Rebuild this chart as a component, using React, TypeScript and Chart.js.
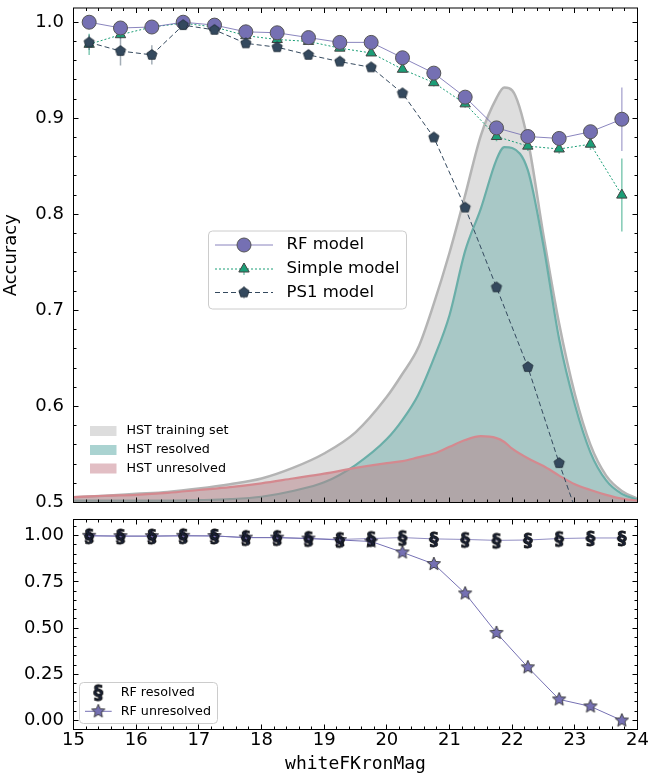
import React, { useEffect, useRef } from 'react';
import { Chart, registerables } from 'chart.js';

Chart.register(...registerables);

const FONT = "'DejaVu Sans', sans-serif";
const MONO = "'DejaVu Sans Mono', monospace";

// ---------------- data ----------------
const magBins = [15.25, 15.75, 16.25, 16.75, 17.25, 17.75, 18.25, 18.75, 19.25, 19.75, 20.25, 20.75, 21.25, 21.75, 22.25, 22.75, 23.25, 23.75];

const rfAcc = [1.0, 0.994, 0.995, 1.0, 0.997, 0.99, 0.989, 0.984, 0.979, 0.979, 0.963, 0.947, 0.922, 0.89, 0.881, 0.879, 0.886, 0.899];
const rfErr = [0.003, 0.004, 0.003, 0.002, 0.002, 0.002, 0.002, 0.002, 0.002, 0.003, 0.003, 0.004, 0.004, 0.005, 0.005, 0.005, 0.006, 0.033];

const simpleAcc = [0.977, 0.987, 0.995, 0.999, 0.995, 0.986, 0.982, 0.98, 0.973, 0.968, 0.951, 0.937, 0.915, 0.881, 0.871, 0.868, 0.873, 0.82];
const simpleErr = [0.011, 0.004, 0.003, 0.002, 0.002, 0.002, 0.002, 0.002, 0.003, 0.003, 0.003, 0.004, 0.004, 0.005, 0.005, 0.005, 0.006, 0.038];

const ps1Acc = [0.979, 0.97, 0.966, 0.997, 0.992, 0.978, 0.974, 0.966, 0.959, 0.953, 0.926, 0.88, 0.807, 0.724, 0.641, 0.541, 0.448, 0.38];
const ps1Err = [0.008, 0.015, 0.01, 0.002, 0.002, 0.002, 0.002, 0.002, 0.002, 0.002, 0.002, 0.003, 0.003, 0.004, 0.004, 0.005, 0.006, 0.008];

const kdeMag = [15, 15.5, 16, 16.5, 17, 17.5, 18, 18.5, 19, 19.5, 20, 20.25, 20.5, 20.75, 21, 21.25, 21.5, 21.75, 21.875, 22, 22.25, 22.5, 22.75, 23, 23.25, 23.5, 23.75, 24];
const hstTraining = [0.5055, 0.507, 0.509, 0.511, 0.5145, 0.519, 0.525, 0.536, 0.551, 0.573, 0.61, 0.634, 0.661, 0.707, 0.76, 0.82, 0.882, 0.921, 0.932, 0.929, 0.877, 0.778, 0.686, 0.613, 0.56, 0.528, 0.512, 0.504];
const hstResolved = [0.502, 0.502, 0.502, 0.502, 0.5025, 0.5035, 0.506, 0.512, 0.521, 0.539, 0.566, 0.586, 0.612, 0.65, 0.695, 0.762, 0.806, 0.857, 0.87, 0.869, 0.846, 0.767, 0.67, 0.602, 0.552, 0.523, 0.509, 0.503];
const hstUnresolved = [0.5055, 0.507, 0.508, 0.51, 0.513, 0.516, 0.52, 0.525, 0.53, 0.536, 0.541, 0.543, 0.547, 0.551, 0.558, 0.565, 0.569, 0.567, 0.563, 0.556, 0.546, 0.538, 0.528, 0.519, 0.513, 0.508, 0.504, 0.502];

const rfResolvedAcc = [1.0, 0.998, 0.998, 1.0, 0.999, 0.99, 0.99, 0.985, 0.98, 0.985, 0.99, 0.983, 0.98, 0.975, 0.977, 0.985, 0.988, 0.988];
const rfUnresolvedAcc = [1.0, 0.998, 0.998, 1.0, 0.999, 0.99, 0.99, 0.985, 0.977, 0.969, 0.91, 0.847, 0.688, 0.474, 0.288, 0.114, 0.076, 0.0];

const xTicks = [15, 16, 17, 18, 19, 20, 21, 22, 23, 24];
const yTicksTop = [0.5, 0.6, 0.7, 0.8, 0.9, 1.0];
const yTicksBottom = [0.0, 0.25, 0.5, 0.75, 1.0];

// ---------------- styles ----------------
const PURPLE = '#7570b3';
const GREEN = '#1b9e77';
const SLATE = '#34495e';

function makeMarker(size: number, draw: (ctx: CanvasRenderingContext2D) => void) {
  const c = document.createElement('canvas');
  c.width = size;
  c.height = size;
  const ctx = c.getContext('2d') as CanvasRenderingContext2D;
  ctx.translate(size / 2, size / 2);
  draw(ctx);
  return c;
}

function polyPath(ctx: CanvasRenderingContext2D, n: number, rOut: number, rIn: number | null) {
  ctx.beginPath();
  const count = rIn === null ? n : n * 2;
  for (let i = 0; i < count; i++) {
    const a = -Math.PI / 2 + (i * 2 * Math.PI) / count;
    const r = rIn === null ? rOut : i % 2 ? rIn : rOut;
    const px = r * Math.cos(a);
    const py = r * Math.sin(a);
    if (i === 0) ctx.moveTo(px, py);
    else ctx.lineTo(px, py);
  }
  ctx.closePath();
}

function xy(xs: number[], ys: number[]) {
  return xs.map((x, i) => ({ x, y: ys[i] }));
}

function drawFrameAndTicks(chart: any, xMinor: number, yMajor: number[], yMinor: number) {
  const { ctx, chartArea: a } = chart;
  const xs = chart.scales.x;
  const ys = chart.scales.y;
  const near = (v: number, arr: number[]) => arr.some((t) => Math.abs(t - v) < 1e-6);
  ctx.save();
  ctx.strokeStyle = '#000';
  ctx.lineWidth = 1;
  ctx.beginPath();
  for (let k = 0; ; k++) {
    const v = xs.min + k * xMinor;
    if (v > xs.max + 1e-9) break;
    const len = near(v, xTicks) ? 5 : 3;
    const p = Math.floor(xs.getPixelForValue(v)) + 0.5;
    ctx.moveTo(p, a.bottom);
    ctx.lineTo(p, a.bottom - len);
    ctx.moveTo(p, a.top);
    ctx.lineTo(p, a.top + len);
  }
  const start = Math.ceil(ys.min / yMinor - 1e-9);
  for (let k = start; ; k++) {
    const v = k * yMinor;
    if (v > ys.max + 1e-9) break;
    const len = near(v, yMajor) ? 5 : 3;
    const p = Math.floor(ys.getPixelForValue(v)) + 0.5;
    ctx.moveTo(a.left, p);
    ctx.lineTo(a.left + len, p);
    ctx.moveTo(a.right, p);
    ctx.lineTo(a.right - len, p);
  }
  ctx.stroke();
  ctx.strokeRect(a.left, a.top, a.right - a.left, a.bottom - a.top);
  ctx.restore();
}

function legendBox(ctx: CanvasRenderingContext2D, x: number, y: number, w: number, h: number) {
  ctx.save();
  ctx.beginPath();
  (ctx as any).roundRect(x, y, w, h, 4);
  ctx.fillStyle = 'rgba(255,255,255,0.85)';
  ctx.fill();
  ctx.strokeStyle = '#cccccc';
  ctx.lineWidth = 1;
  ctx.stroke();
  ctx.restore();
}

export default function App() {
  const topRef = useRef<HTMLCanvasElement>(null);
  const botRef = useRef<HTMLCanvasElement>(null);

  useEffect(() => {
    Chart.defaults.font.family = FONT;
    Chart.defaults.color = '#000';

    const pentImg = makeMarker(14, (ctx) => {
      polyPath(ctx, 5, 5.4, null);
      ctx.fillStyle = SLATE;
      ctx.fill();
      ctx.strokeStyle = '#1c2833';
      ctx.lineWidth = 0.8;
      ctx.stroke();
    });
    const starImg = makeMarker(18, (ctx) => {
      polyPath(ctx, 5, 7, 3.2);
      ctx.fillStyle = PURPLE;
      ctx.fill();
      ctx.strokeStyle = '#333';
      ctx.lineWidth = 0.9;
      ctx.stroke();
    });
    const makeSection = (size: number, fs: number) =>
      makeMarker(size, (ctx) => {
        ctx.font = `bold ${fs}px ${FONT}`;
        ctx.textAlign = 'center';
        ctx.textBaseline = 'middle';
        ctx.fillStyle = '#1a2236';
        ctx.strokeStyle = '#000';
        ctx.lineWidth = 0.8;
        ctx.fillText('§', 0, 1);
        ctx.strokeText('§', 0, 1);
      });
    const sectImg = makeSection(24, 18);
    const sectLegendImg = makeSection(26, 19);

    const errorSets: Record<number, { vals: number[]; errs: number[]; color: string }> = {
      0: { vals: rfAcc, errs: rfErr, color: 'rgba(117,112,179,0.55)' },
      1: { vals: simpleAcc, errs: simpleErr, color: 'rgba(27,158,119,0.55)' },
      2: { vals: ps1Acc, errs: ps1Err, color: 'rgba(52,73,94,0.45)' },
    };

    const topPlugin = {
      id: 'topDecor',
      beforeDatasetDraw(chart: any, args: any) {
        const set = errorSets[args.index];
        if (!set) return;
        const { ctx, chartArea: a } = chart;
        const xs = chart.scales.x;
        const ys = chart.scales.y;
        ctx.save();
        ctx.beginPath();
        ctx.rect(a.left, a.top, a.right - a.left, a.bottom - a.top);
        ctx.clip();
        ctx.strokeStyle = set.color;
        ctx.lineWidth = 1.5;
        ctx.beginPath();
        magBins.forEach((m, i) => {
          const px = xs.getPixelForValue(m);
          ctx.moveTo(px, ys.getPixelForValue(set.vals[i] + set.errs[i]));
          ctx.lineTo(px, ys.getPixelForValue(set.vals[i] - set.errs[i]));
        });
        ctx.stroke();
        ctx.restore();
      },
      afterDraw(chart: any) {
        const ctx: CanvasRenderingContext2D = chart.ctx;
        drawFrameAndTicks(chart, 0.2, yTicksTop, 0.02);

        // model legend
        legendBox(ctx, 208.5, 231, 198, 78);
        const rows = [245, 269, 292.5];
        const hx0 = 215;
        const hx1 = 273;
        const mx = 244;
        ctx.save();
        // RF
        ctx.strokeStyle = 'rgba(117,112,179,0.85)';
        ctx.lineWidth = 1;
        ctx.beginPath();
        ctx.moveTo(hx0, rows[0]);
        ctx.lineTo(hx1, rows[0]);
        ctx.stroke();
        ctx.beginPath();
        ctx.arc(mx, rows[0], 7, 0, Math.PI * 2);
        ctx.fillStyle = PURPLE;
        ctx.fill();
        ctx.strokeStyle = '#555';
        ctx.stroke();
        // Simple
        ctx.strokeStyle = GREEN;
        ctx.setLineDash([2, 2]);
        ctx.beginPath();
        ctx.moveTo(hx0, rows[1]);
        ctx.lineTo(hx1, rows[1]);
        ctx.stroke();
        ctx.setLineDash([]);
        ctx.strokeStyle = 'rgba(27,158,119,0.55)';
        ctx.lineWidth = 1.5;
        ctx.beginPath();
        ctx.moveTo(mx, rows[1] - 6);
        ctx.lineTo(mx, rows[1] + 6);
        ctx.stroke();
        ctx.beginPath();
        ctx.moveTo(mx, rows[1] - 6);
        ctx.lineTo(mx + 5.2, rows[1] + 3);
        ctx.lineTo(mx - 5.2, rows[1] + 3);
        ctx.closePath();
        ctx.fillStyle = GREEN;
        ctx.fill();
        ctx.strokeStyle = '#444';
        ctx.lineWidth = 1;
        ctx.stroke();
        // PS1
        ctx.strokeStyle = SLATE;
        ctx.setLineDash([5, 3]);
        ctx.beginPath();
        ctx.moveTo(hx0, rows[2]);
        ctx.lineTo(hx1, rows[2]);
        ctx.stroke();
        ctx.setLineDash([]);
        ctx.strokeStyle = 'rgba(52,73,94,0.45)';
        ctx.lineWidth = 1.5;
        ctx.beginPath();
        ctx.moveTo(mx, rows[2] - 6);
        ctx.lineTo(mx, rows[2] + 6);
        ctx.stroke();
        ctx.drawImage(pentImg, mx - 7, rows[2] - 7);

        ctx.fillStyle = '#000';
        ctx.font = `16.5px ${FONT}`;
        ctx.textBaseline = 'middle';
        ctx.textAlign = 'left';
        ctx.fillText('RF model', 286.5, rows[0]);
        ctx.fillText('Simple model', 286.5, rows[1]);
        ctx.fillText('PS1 model', 286.5, rows[2]);

        // HST legend (no frame)
        const hRows = [431, 450, 468.5];
        const patches = ['rgb(221,221,221)', 'rgb(170,211,209)', 'rgb(226,190,196)'];
        const labels = ['HST training set', 'HST resolved', 'HST unresolved'];
        ctx.font = `12.7px ${FONT}`;
        hRows.forEach((ry, i) => {
          ctx.fillStyle = patches[i];
          ctx.fillRect(90, ry - 5, 26.5, 10);
          ctx.fillStyle = '#000';
          ctx.fillText(labels[i], 126.5, ry);
        });
        ctx.restore();
      },
    };

    const top = new Chart(topRef.current as HTMLCanvasElement, {
      type: 'line',
      data: {
        datasets: [
          {
            label: 'RF model',
            data: xy(magBins, rfAcc),
            borderColor: 'rgba(117,112,179,0.85)',
            borderWidth: 1,
            pointStyle: 'circle',
            pointRadius: 7,
            pointBackgroundColor: PURPLE,
            pointBorderColor: '#555',
            pointBorderWidth: 1,
            fill: false,
            tension: 0,
            order: 2,
          },
          {
            label: 'Simple model',
            data: xy(magBins, simpleAcc),
            borderColor: GREEN,
            borderWidth: 1,
            borderDash: [2, 2],
            pointStyle: 'triangle',
            pointRadius: 6,
            pointBackgroundColor: GREEN,
            pointBorderColor: '#444',
            pointBorderWidth: 1,
            fill: false,
            tension: 0,
            order: 3,
          },
          {
            label: 'PS1 model',
            data: xy(magBins, ps1Acc),
            borderColor: SLATE,
            borderWidth: 1,
            borderDash: [5, 3],
            pointStyle: pentImg as any,
            pointRadius: 5,
            fill: false,
            tension: 0,
            order: 1,
          },
          {
            label: 'HST training set',
            data: xy(kdeMag, hstTraining),
            borderColor: '#b4b4b4',
            borderWidth: 2.5,
            backgroundColor: 'rgb(222,222,222)',
            fill: 'start',
            pointRadius: 0,
            cubicInterpolationMode: 'monotone',
            order: 6,
          },
          {
            label: 'HST resolved',
            data: xy(kdeMag, hstResolved),
            borderColor: '#6aaea8',
            borderWidth: 2.2,
            backgroundColor: 'rgba(132,185,182,0.6)',
            fill: 'start',
            pointRadius: 0,
            cubicInterpolationMode: 'monotone',
            order: 5,
          },
          {
            label: 'HST unresolved',
            data: xy(kdeMag, hstUnresolved),
            borderColor: '#d4898f',
            borderWidth: 2.2,
            backgroundColor: 'rgba(184,132,138,0.5)',
            fill: 'start',
            pointRadius: 0,
            cubicInterpolationMode: 'monotone',
            order: 4,
          },
        ],
      },
      options: {
        responsive: false,
        animation: false,
        devicePixelRatio: 1,
        layout: { padding: { left: 0, right: 13.5, top: 5.5, bottom: 9.5 } },
        plugins: { legend: { display: false }, tooltip: { enabled: false } },
        scales: {
          x: { type: 'linear', min: 15, max: 24, display: false },
          y: {
            type: 'linear',
            min: 0.5,
            max: 1.0148,
            afterBuildTicks: (s: any) => {
              s.ticks = yTicksTop.map((v) => ({ value: v }));
            },
            afterFit: (s: any) => {
              s.width = 73.5;
              s.paddingTop = 0;
              s.paddingBottom = 0;
            },
            grid: { display: false, drawTicks: false },
            border: { display: false },
            ticks: {
              padding: 9.5,
              font: { size: 18, family: FONT },
              color: '#000',
              callback: (v: any) => Number(v).toFixed(1),
            },
            title: { display: true, text: 'Accuracy', font: { size: 18, family: FONT }, color: '#000', padding: { top: 1 } },
          },
        },
      },
      plugins: [topPlugin],
    } as any);

    const botPlugin = {
      id: 'botDecor',
      afterDraw(chart: any) {
        const ctx: CanvasRenderingContext2D = chart.ctx;
        drawFrameAndTicks(chart, 0.2, yTicksBottom, 0.05);
        legendBox(ctx, 79.5, 172.5, 138, 41);
        const r1 = 182.7;
        const r2 = 201.3;
        ctx.save();
        ctx.drawImage(sectLegendImg, 98.3 - 13, r1 - 13);
        ctx.strokeStyle = PURPLE;
        ctx.lineWidth = 1;
        ctx.beginPath();
        ctx.moveTo(85, r2);
        ctx.lineTo(111.7, r2);
        ctx.stroke();
        ctx.drawImage(starImg, 98.3 - 9, r2 - 9);
        ctx.fillStyle = '#000';
        ctx.font = `12.7px ${FONT}`;
        ctx.textBaseline = 'middle';
        ctx.textAlign = 'left';
        ctx.fillText('RF resolved', 120.7, r1);
        ctx.fillText('RF unresolved', 120.7, r2);
        ctx.restore();
      },
    };

    const bot = new Chart(botRef.current as HTMLCanvasElement, {
      type: 'line',
      data: {
        datasets: [
          {
            label: 'RF resolved',
            data: xy(magBins, rfResolvedAcc),
            borderColor: 'rgba(117,112,179,0.8)',
            borderWidth: 1,
            pointStyle: sectImg as any,
            pointRadius: 5,
            fill: false,
            tension: 0,
            order: 1,
          },
          {
            label: 'RF unresolved',
            data: xy(magBins, rfUnresolvedAcc),
            borderColor: PURPLE,
            borderWidth: 1,
            pointStyle: starImg as any,
            pointRadius: 5,
            fill: false,
            tension: 0,
            order: 2,
          },
        ],
      },
      options: {
        responsive: false,
        animation: false,
        devicePixelRatio: 1,
        layout: { padding: { left: 0, right: 13.5, top: 9.5, bottom: 0 } },
        plugins: { legend: { display: false }, tooltip: { enabled: false } },
        scales: {
          x: {
            type: 'linear',
            min: 15,
            max: 24,
            afterBuildTicks: (s: any) => {
              s.ticks = xTicks.map((v) => ({ value: v }));
            },
            afterFit: (s: any) => {
              s.height = 48.5;
              s.paddingLeft = 0;
              s.paddingRight = 0;
            },
            grid: { display: false, drawTicks: false },
            border: { display: false },
            ticks: {
              padding: 0,
              autoSkip: false,
              maxRotation: 0,
              font: { size: 18, family: FONT },
              color: '#000',
              callback: (v: any) => String(v),
            },
            title: {
              display: true,
              text: 'whiteFKronMag',
              font: { size: 18, family: MONO },
              color: '#000',
              padding: { top: 0, bottom: 3 },
            },
          },
          y: {
            type: 'linear',
            min: -0.049,
            max: 1.088,
            afterBuildTicks: (s: any) => {
              s.ticks = yTicksBottom.map((v) => ({ value: v }));
            },
            afterFit: (s: any) => {
              s.width = 73.5;
              s.paddingTop = 0;
              s.paddingBottom = 0;
            },
            grid: { display: false, drawTicks: false },
            border: { display: false },
            ticks: {
              padding: 9.5,
              font: { size: 18, family: FONT },
              color: '#000',
              callback: (v: any) => Number(v).toFixed(2),
            },
          },
        },
      },
      plugins: [botPlugin],
    } as any);

    return () => {
      top.destroy();
      bot.destroy();
    };
  }, []);

  return (
    <div style={{ position: 'absolute', left: 0, top: 0, width: 651, height: 778, overflow: 'hidden', background: '#fff' }}>
      <canvas ref={topRef} width={651} height={512} style={{ position: 'absolute', left: 0, top: 0, display: 'block' }} />
      <canvas ref={botRef} width={651} height={268} style={{ position: 'absolute', left: 0, top: 510, display: 'block' }} />
    </div>
  );
}
